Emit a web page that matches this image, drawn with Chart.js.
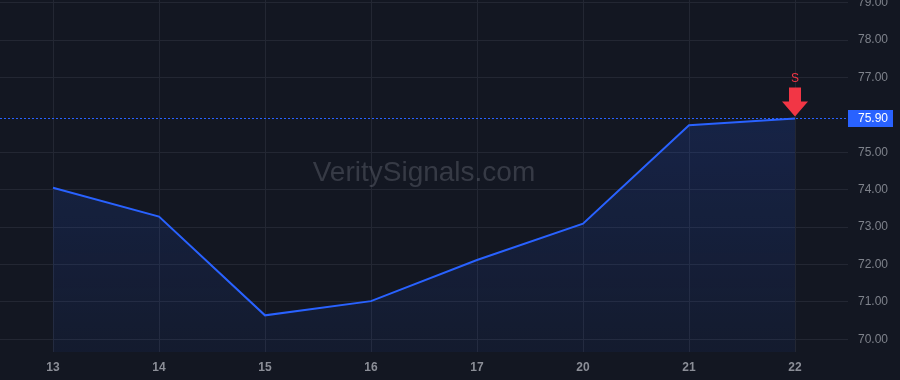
<!DOCTYPE html>
<html>
<head>
<meta charset="utf-8">
<script src="https://cdn.jsdelivr.net/npm/chart.js@4.4.0/dist/chart.umd.min.js"></script>
<style>
  html, body { margin: 0; padding: 0; background: #131722; }
  canvas { display: block; }
</style>
</head>
<body>
<canvas id="priceChart" width="900" height="380"></canvas>
<script>
// Données du graphique
const DAY_LABELS = ["13", "14", "15", "16", "17", "20", "21", "22"];
const CLOSE_VALUES = [74.05, 73.28, 70.64, 71.02, 72.12, 73.09, 75.72, 75.9];
const Y_TICKS = [70, 71, 72, 73, 74, 75, 77, 78, 79];
const LAST_PRICE = 75.9;
const SIGNAL_TEXT = "S";
const WATERMARK = "VeritySignals.com";

// Couleurs
const BG = "#131722";
const LINE_BLUE = "#2962FF";
const GRID = "#232733";
const SELL_RED = "#F23645";
const FONT = "'Liberation Sans', Arial, sans-serif";

// Filigrane derrière les données
const watermarkPlugin = {
  id: "watermark",
  beforeDatasetsDraw(chart) {
    const { ctx, chartArea } = chart;
    ctx.save();
    ctx.font = "28px " + FONT;
    ctx.fillStyle = "rgba(120, 123, 134, 0.35)";
    ctx.textAlign = "center";
    ctx.textBaseline = "middle";
    ctx.fillText(WATERMARK, (chartArea.left + chartArea.right) / 2, 173);
    ctx.restore();
  },
};

// Ligne du dernier prix + étiquette
const priceLinePlugin = {
  id: "priceLine",
  beforeDatasetsDraw(chart) {
    const { ctx, chartArea, scales } = chart;
    const y = Math.round(scales.y.getPixelForValue(LAST_PRICE)) - 0.5;
    ctx.save();
    ctx.strokeStyle = LINE_BLUE;
    ctx.lineWidth = 1;
    ctx.setLineDash([2, 2]);
    ctx.beginPath();
    ctx.moveTo(chartArea.left, y);
    ctx.lineTo(chartArea.right, y);
    ctx.stroke();
    ctx.restore();
  },
  afterDraw(chart) {
    const { ctx, chartArea, scales } = chart;
    const y = scales.y.getPixelForValue(LAST_PRICE);
    ctx.save();
    ctx.fillStyle = LINE_BLUE;
    ctx.fillRect(chartArea.right, Math.round(y) - 9, 45, 17);
    ctx.fillStyle = "#ffffff";
    ctx.font = "12px " + FONT;
    ctx.textAlign = "left";
    ctx.textBaseline = "middle";
    ctx.fillText(LAST_PRICE.toFixed(2), chartArea.right + 10, y);
    ctx.restore();
  },
};

// Flèche de vente sur le dernier point
const signalPlugin = {
  id: "signal",
  afterDatasetsDraw(chart) {
    const { ctx, scales } = chart;
    const last = CLOSE_VALUES.length - 1;
    const x = scales.x.getPixelForValue(last);
    const y = scales.y.getPixelForValue(CLOSE_VALUES[last]) - 2;
    ctx.save();
    ctx.fillStyle = SELL_RED;
    ctx.beginPath();
    ctx.moveTo(x - 6, y - 29);
    ctx.lineTo(x + 6, y - 29);
    ctx.lineTo(x + 6, y - 15);
    ctx.lineTo(x + 13, y - 15);
    ctx.lineTo(x, y);
    ctx.lineTo(x - 13, y - 15);
    ctx.lineTo(x - 6, y - 15);
    ctx.closePath();
    ctx.fill();
    ctx.font = "12px " + FONT;
    ctx.textAlign = "center";
    ctx.textBaseline = "middle";
    ctx.fillText(SIGNAL_TEXT, x, y - 38);
    ctx.restore();
  },
};

function buildFill(context) {
  const area = context.chart.chartArea;
  if (!area) return "rgba(41, 98, 255, 0.12)";
  const g = context.chart.ctx.createLinearGradient(0, area.top, 0, area.bottom);
  g.addColorStop(0, "rgba(41, 98, 255, 0.22)");
  g.addColorStop(1, "rgba(41, 98, 255, 0.06)");
  return g;
}

const ctx = document.getElementById("priceChart").getContext("2d");
new Chart(ctx, {
  type: "line",
  data: {
    labels: DAY_LABELS,
    datasets: [
      {
        data: CLOSE_VALUES,
        borderColor: LINE_BLUE,
        borderWidth: 2,
        pointRadius: 0,
        tension: 0,
        fill: "start",
        backgroundColor: buildFill,
      },
    ],
  },
  options: {
    responsive: false,
    animation: false,
    devicePixelRatio: 1,
    layout: { padding: 0 },
    plugins: {
      legend: { display: false },
      tooltip: { enabled: false },
    },
    scales: {
      x: {
        offset: true,
        grid: { color: GRID, drawTicks: false, offset: false },
        border: { display: false },
        ticks: {
          color: "#8b8e97",
          font: { family: FONT, size: 12, weight: "bold" },
          padding: 8,
          maxRotation: 0,
          autoSkip: false,
        },
        afterFit(scale) {
          scale.height = 28;
          scale.paddingLeft = 0;
          scale.paddingRight = 0;
        },
      },
      y: {
        position: "right",
        min: 69.66,
        max: 79.07,
        grid: { color: GRID, drawTicks: false },
        border: { display: false },
        afterBuildTicks(scale) {
          scale.ticks = Y_TICKS.map((v) => ({ value: v }));
        },
        ticks: {
          color: "#7e828b",
          font: { family: FONT, size: 12 },
          padding: 10,
          callback: (v) => Number(v).toFixed(2),
        },
        afterFit(scale) {
          scale.width = 52;
          scale.paddingTop = 0;
          scale.paddingBottom = 0;
        },
      },
    },
  },
  plugins: [watermarkPlugin, priceLinePlugin, signalPlugin],
});
</script>
</body>
</html>
